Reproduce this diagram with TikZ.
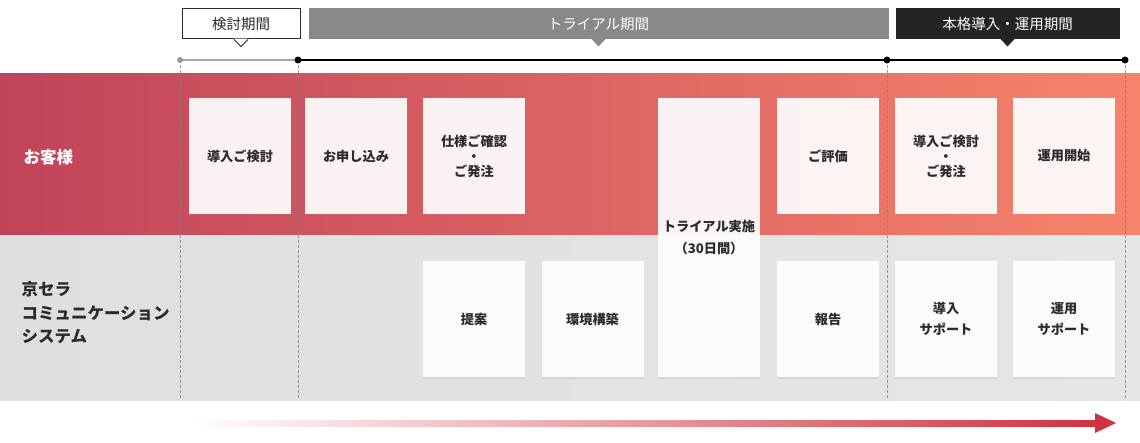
\documentclass[tikz,border=0pt]{standalone}
\usepackage{fontspec}
\setmainfont{Noto Sans CJK JP}
\usetikzlibrary{positioning,shadows,calc}

\definecolor{bandL}{HTML}{C1435A}
\definecolor{bandR}{HTML}{F6846B}
\definecolor{greyL}{HTML}{DFDFDF}
\definecolor{greyR}{HTML}{E6E6E6}
\definecolor{ink}{HTML}{2B2B2B}
\definecolor{trialgrey}{HTML}{898989}
\definecolor{mainblack}{HTML}{232323}
\definecolor{arrowred}{HTML}{D1323E}

\begin{document}
\begin{tikzpicture}[
    x=1pt, y=-1pt,
    dot/.style = {
      fill = black,
      circle,
      inner sep = 0pt,
      minimum size = 7pt
    },
    period/.style = {
      draw = ink,
      line width = 1pt,
      fill = white,
      text = ink,
      minimum height = 30pt,
      inner sep = 0pt,
      font = \fontsize{14.5}{17}\selectfont
    },
    task/.style = {
      fill = white,
      fill opacity = .92,
      text opacity = 1,
      text = ink,
      minimum width = 102pt,
      minimum height = 116pt,
      align = center,
      inner sep = 0pt,
      font = \bfseries\fontsize{13.2}{15}\selectfont,
      drop shadow = {opacity = .14, shadow xshift = 0pt, shadow yshift = -1.5pt}
    },
    lane/.style = {
      anchor = west,
      align = left,
      font = \bfseries\fontsize{16.5}{23.5}\selectfont
    },
    guide/.style = {densely dashed, gray, opacity = .8, line width = .8pt}
  ]
  \useasboundingbox (0,0) rectangle (1140,443);
  % lanes
  \shade[left color = bandL, right color = bandR] (0,74) rectangle (1140,236);
  \shade[left color = greyL, right color = greyR] (0,236) rectangle (1140,400);
  \node[lane, text = white] (cust) at (20,157) {お客様};
  \node[lane, text = ink] (kccs) at (18,313) {京セラ\\コミュニケーション\\システム};

  % timeline
  \coordinate (t0) at (180,60);
  \coordinate (t1) at (298,60);
  \coordinate (t2) at (887,60);
  \coordinate (t3) at (1125,60);
  \foreach \t in {t0,t1,t2,t3}
    \draw[guide] (\t) -- (\t |- 0,400);
  \draw[gray!70, line width = 1.2pt] (t0) -- (t1);
  \draw[black, line width = 1.2pt] (t1) -- (t3);
  \node[dot, fill = gray!80, minimum size = 6pt] at (t0) {};
  \foreach \t in {t1,t2,t3}
    \node[dot] at (\t) {};

  % periods
  \node[period, minimum width = 118pt] (p1) at (241,24) {検討期間};
  \node[period, fill = trialgrey, draw = trialgrey, text = white, minimum width = 579pt] (p2) at (598.5,24) {トライアル期間};
  \node[period, fill = mainblack, draw = mainblack, text = white, minimum width = 223pt] (p3) at (1007.5,24) {本格導入・運用期間};
  \fill[white] (p1.south) ++(-7,-.8) -- ++(7,7.8) -- ++(7,-7.8) -- cycle;
  \draw[ink, line width = 1pt] (p1.south) ++(-7,0) -- ++(7,7) -- ++(7,-7);
  \fill[trialgrey] (p2.south) ++(-7,-.5) -- ++(7,7.5) -- ++(7,-7.5) -- cycle;
  \fill[mainblack] (p3.south) ++(-7,-.5) -- ++(7,7.5) -- ++(7,-7.5) -- cycle;

  % customer tasks
  \node[task] (c1) at (240,156) {導入ご検討};
  \node[task] (c2) at (356,156) {お申し込み};
  \node[task] (c3) at (474,156) {仕様ご確認\\・\\ご発注};
  \node[task, minimum height = 279pt] (trial) at (709,237.5) {トライアル実施\\[7pt]（30日間）};
  \node[task] (c4) at (828,156) {ご評価};
  \node[task] (c5) at (946,156) {導入ご検討\\・\\ご発注};
  \node[task] (c6) at (1064,156) {運用開始};

  % kccs tasks
  \node[task] (k1) at (474,319) {提案};
  \node[task] (k2) at (592.5,319) {環境構築};
  \node[task] (k3) at (828,319) {報告};
  \node[task] (k4) at (946,319) {導入\\[6pt]サポート};
  \node[task] (k5) at (1064,319) {運用\\[6pt]サポート};

  % flow arrow
  \coordinate (a0) at (190,423);
  \coordinate (a1) at (1116,423);
  \shade[left color = white, middle color = arrowred!75, right color = arrowred]
    ($(a0)+(0,-3)$) rectangle ($(a1)+(-20,3)$);
  \fill[arrowred] (a1) -- ++(-21,-10) -- ++(0,20) -- cycle;
\end{tikzpicture}
\end{document}
